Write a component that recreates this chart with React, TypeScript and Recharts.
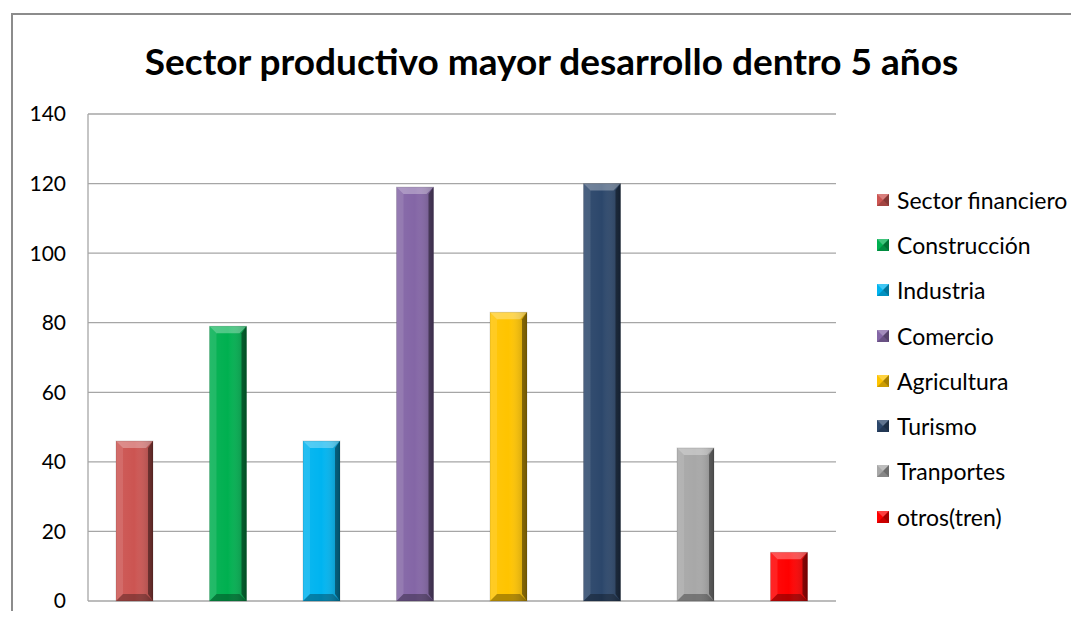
import { BarChart, Bar, XAxis, YAxis, CartesianGrid, Cell } from "recharts";

const sectors = [
  "Sector financiero",
  "Construcción",
  "Industria",
  "Comercio",
  "Agricultura",
  "Turismo",
  "Tranportes",
  "otros(tren)",
];
const votes = [46, 79, 46, 119, 83, 120, 44, 14];
const colors = ["#CC5552", "#00B050", "#00B4F0", "#8466A6", "#FFC400", "#2C476B", "#A8A8A8", "#FF0000"];
const yTicks = [0, 20, 40, 60, 80, 100, 120, 140];

const data = sectors.map((name, i) => ({ name, value: votes[i] }));

const FONT = "Lato, 'Open Sans', sans-serif";

// bar with an Excel-like bevel
const BevelBar = (props: any) => {
  const { x, y, width: w, height: h, fill } = props;
  if (!h || h <= 0) return null;
  const b = Math.min(7, h / 2);
  return (
    <g>
      <rect x={x} y={y} width={w} height={h} fill={fill} />
      <rect x={x} y={y} width={w} height={h} fill="url(#faceShade)" />
      <polygon points={`${x},${y} ${x + w},${y} ${x + w - b},${y + b} ${x + b},${y + b}`} fill="#fff" opacity={0.3} />
      <polygon points={`${x},${y} ${x + b},${y + b} ${x + b},${y + h - b} ${x},${y + h}`} fill="#fff" opacity={0.1} />
      <polygon points={`${x + w},${y} ${x + w},${y + h} ${x + w - b + 2},${y + h - b} ${x + w - b + 2},${y + b}`} fill="#000" opacity={0.4} />
      <polygon points={`${x},${y + h} ${x + w},${y + h} ${x + w - b},${y + h - b} ${x + b},${y + h - b}`} fill="#000" opacity={0.3} />
      <rect x={x} y={y} width={w} height={h} fill="none" stroke="#000" strokeOpacity={0.12} />
    </g>
  );
};

const LegendMark = ({ color }: { color: string }) => (
  <svg width={12} height={12} style={{ marginRight: 8 }}>
    <rect x={0} y={0} width={12} height={12} fill={color} />
    <polygon points="0,0 12,0 6,6" fill="#fff" opacity={0.25} />
    <polygon points="12,0 12,12 6,6" fill="#000" opacity={0.35} />
    <polygon points="0,12 12,12 6,6" fill="#000" opacity={0.2} />
  </svg>
);

export default function App() {
  return (
    <div style={{ position: "relative", width: 1079, height: 619, margin: -8, overflow: "hidden", background: "#fff", fontFamily: FONT }}>
      <div style={{ position: "absolute", left: 11, top: 13, width: 1200, height: 800, borderTop: "2px solid #8c8c8c", borderLeft: "2px solid #8c8c8c" }} />
      <div style={{ position: "absolute", left: 0, width: 1103, top: 36, textAlign: "center", fontSize: 37, fontWeight: 700, color: "#000", lineHeight: "50px" }}>
        Sector productivo mayor desarrollo dentro 5 años
      </div>
      <div style={{ position: "absolute", left: 0, top: 0 }}>
        <BarChart width={1079} height={619} data={data} margin={{ top: 114, right: 243, bottom: 18, left: 0 }} barSize={37}>
          <defs>
            <linearGradient id="faceShade" x1="0" y1="0" x2="1" y2="0">
              <stop offset="0" stopColor="#fff" stopOpacity={0.05} />
              <stop offset="0.5" stopColor="#fff" stopOpacity={0} />
              <stop offset="1" stopColor="#000" stopOpacity={0.25} />
            </linearGradient>
          </defs>
          <CartesianGrid vertical={false} stroke="#a6a6a6" strokeWidth={1.3} />
          <XAxis dataKey="name" hide />
          <YAxis
            width={88}
            domain={[0, 140]}
            ticks={yTicks}
            interval={0}
            tickLine={false}
            axisLine={{ stroke: "#a6a6a6", strokeWidth: 1.3 }}
            tickMargin={16}
            tick={{ fontSize: 21, fill: "#000", fontFamily: FONT }}
          />
          <Bar dataKey="value" isAnimationActive={false} shape={BevelBar}>
            {data.map((d, i) => (
              <Cell key={d.name} fill={colors[i]} />
            ))}
          </Bar>
        </BarChart>
      </div>
      <div style={{ position: "absolute", left: 877, top: 177 }}>
        {sectors.map((s, i) => (
          <div key={s} style={{ display: "flex", alignItems: "center", height: 45.3, fontSize: 23, color: "#000", whiteSpace: "nowrap" }}>
            <LegendMark color={colors[i]} />
            {s}
          </div>
        ))}
      </div>
    </div>
  );
}
